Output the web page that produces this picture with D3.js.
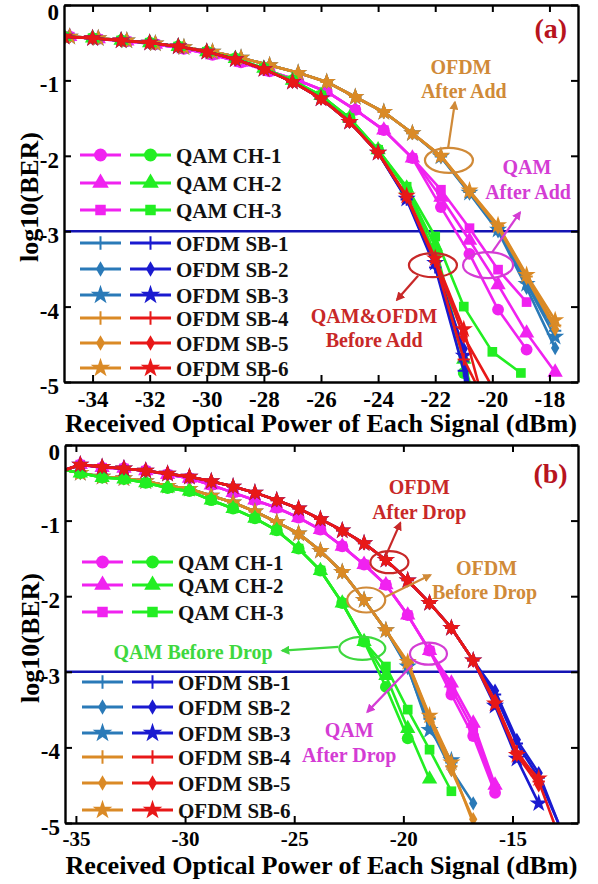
<!DOCTYPE html>
<html>
<head>
<meta charset="utf-8">
<script src="https://cdn.jsdelivr.net/npm/d3@7"></script>
<style>
  body { margin: 0; background: #fff; }
  text { font-family: "Liberation Serif", "Times New Roman", serif; font-weight: bold; }
</style>
</head>
<body>
<svg id="chart" width="598" height="884"></svg>
<script>
// ---- shared ----
const legendLabels = ["QAM CH-1", "QAM CH-2", "QAM CH-3", "OFDM SB-1", "OFDM SB-2", "OFDM SB-3", "OFDM SB-4", "OFDM SB-5", "OFDM SB-6"];
const symbolNames = ["circle", "triangle", "square", "plus", "diamond", "star", "plus", "diamond", "star"];
const yTicks = [0, -1, -2, -3, -4, -5];
const threshold = -3;

// ---- panel (a) ----
const xTicksA = [-34, -32, -30, -28, -26, -24, -22, -20, -18];
// before add, integer powers
const xA1 = [-35, -34, -33, -32, -31, -30, -29, -28, -27, -26, -25, -24, -23, -22, -21, -20, -19];
// after add, markers slightly right
const xA2 = [-34.8, -33.8, -32.8, -31.8, -30.8, -29.8, -28.8, -27.8, -26.8, -25.8, -24.8, -23.8, -22.8, -21.8, -20.8, -19.8, -18.8, -17.8];

const magHeadA = [-0.42, -0.45, -0.48, -0.52, -0.58, -0.66, -0.76, -0.88, -1.00, -1.15, -1.39, -1.66, -2.03];
const ofdmAftHeadA = [-0.42, -0.44, -0.47, -0.51, -0.56, -0.62, -0.70, -0.80, -0.90, -1.02, -1.22, -1.42, -1.70];
const greenHeadA = [-0.42, -0.44, -0.47, -0.50, -0.55, -0.62, -0.71, -0.84, -1.00, -1.20, -1.50, -1.92];
const ofdmBefHeadA = [-0.42, -0.44, -0.47, -0.50, -0.55, -0.62, -0.72, -0.85, -1.02, -1.24, -1.55, -1.96];

const qamAfterAdd1 = magHeadA.concat([-2.68, -3.30, -4.04, -4.57]);
const qamAfterAdd2 = magHeadA.concat([-2.55, -3.12, -3.71, -4.35, -4.87]);
const qamAfterAdd3 = magHeadA.concat([-2.45, -2.96, -3.51, -3.94]);
const ofdmAfterAdd1 = ofdmAftHeadA.concat([-2.01, -2.48, -2.97, -3.68, -4.32]);
const ofdmAfterAdd2 = ofdmAftHeadA.concat([-2.02, -2.50, -3.00, -3.75, -4.55]);
const ofdmAfterAdd3 = ofdmAftHeadA.concat([-2.01, -2.49, -2.98, -3.70, -4.40]);
const ofdmAfterAdd4 = ofdmAftHeadA.concat([-2.00, -2.47, -2.93, -3.60, -4.25]);
const ofdmAfterAdd5 = ofdmAftHeadA.concat([-2.01, -2.48, -2.95, -3.62, -4.30]);
const ofdmAfterAdd6 = ofdmAftHeadA.concat([-2.00, -2.46, -2.92, -3.58, -4.18]);

const qamBeforeAdd1 = greenHeadA.concat([-2.45, -3.30, -4.88]);
const qamBeforeAdd2 = greenHeadA.concat([-2.43, -3.20, -4.70]);
const qamBeforeAdd3 = greenHeadA.concat([-2.41, -3.07, -4.00, -4.60, -4.88]);
const ofdmBeforeAdd1 = ofdmBefHeadA.concat([-2.58, -3.48, -4.85]);
const ofdmBeforeAdd2 = ofdmBefHeadA.concat([-2.56, -3.45, -4.56]);
const ofdmBeforeAdd3 = ofdmBefHeadA.concat([-2.57, -3.42, -4.65]);
const ofdmBeforeAdd4 = ofdmBefHeadA.concat([-2.55, -3.40, -4.70]);
const ofdmBeforeAdd5 = ofdmBefHeadA.concat([-2.54, -3.38, -4.40]);
const ofdmBeforeAdd6 = ofdmBefHeadA.concat([-2.53, -3.36, -4.30]);
// where a curve runs on to the bottom edge (log10 BER = -5)
const endBeforeAdd = [null, -20.8, null, -20.95, -20.85, -20.9, -20.6, -20.1, -20.5];

// ---- panel (b) ----
const xTicksB = [-35, -30, -25, -20, -15];
const xB = [-35.5, -34.8, -33.8, -32.8, -31.8, -30.8, -29.8, -28.8, -27.8, -26.8, -25.8, -24.8, -23.8, -22.8, -21.8, -20.8, -19.8, -18.8, -17.8, -16.8, -15.8, -14.8, -13.8];

const magHeadB = [-0.33, -0.26, -0.30, -0.31, -0.34, -0.39, -0.44, -0.53, -0.63, -0.73, -0.83, -0.96, -1.12, -1.34, -1.58, -1.85, -2.25, -2.72];
const greenHeadB = [-0.33, -0.37, -0.43, -0.45, -0.50, -0.57, -0.61, -0.73, -0.84, -0.97, -1.13, -1.37, -1.66, -2.09, -2.60];
const ofdmBefHeadB = [-0.33, -0.37, -0.42, -0.44, -0.48, -0.54, -0.58, -0.67, -0.76, -0.88, -1.02, -1.17, -1.40, -1.68, -2.05, -2.45];
const ofdmAftHeadB = [-0.33, -0.26, -0.29, -0.31, -0.34, -0.38, -0.42, -0.48, -0.55, -0.63, -0.73, -0.84, -0.98, -1.13, -1.30, -1.52, -1.79, -2.09, -2.42, -2.85];

const qamAfterDrop1 = magHeadB.concat([-3.30, -3.85, -4.60]);
const qamAfterDrop2 = magHeadB.concat([-3.15, -3.68, -4.50]);
const qamAfterDrop3 = magHeadB.concat([-3.22, -3.76, -4.55]);
const ofdmBeforeDrop1 = ofdmBefHeadB.concat([-2.90, -3.62, -4.20]);
const ofdmBeforeDrop2 = ofdmBefHeadB.concat([-2.95, -3.72, -4.30, -4.74]);
const ofdmBeforeDrop3 = ofdmBefHeadB.concat([-2.93, -3.77, -4.17]);
const ofdmBeforeDrop4 = ofdmBefHeadB.concat([-2.88, -3.60, -4.25]);
const ofdmBeforeDrop5 = ofdmBefHeadB.concat([-2.90, -3.63, -4.30, -4.95]);
const ofdmBeforeDrop6 = ofdmBefHeadB.concat([-2.87, -3.58, -4.20]);
const endLeftB = [null, null, null, null, null, null, -16.8, null, null];

const qamBeforeDrop1 = greenHeadB.concat([-3.20, -3.88]);
const qamBeforeDrop2 = greenHeadB.concat([-3.05, -3.75, -4.42]);
const qamBeforeDrop3 = greenHeadB.concat([-2.93, -3.50, -4.03, -4.58]);
const ofdmAfterDrop1 = ofdmAftHeadB.concat([-3.30, -3.95, -4.40]);
const ofdmAfterDrop2 = ofdmAftHeadB.concat([-3.25, -3.90, -4.34]);
const ofdmAfterDrop3 = ofdmAftHeadB.concat([-3.45, -4.15, -4.74]);
const ofdmAfterDrop4 = ofdmAftHeadB.concat([-3.40, -4.05, -4.45]);
const ofdmAfterDrop5 = ofdmAftHeadB.concat([-3.38, -4.10, -4.50]);
const ofdmAfterDrop6 = ofdmAftHeadB.concat([-3.42, -4.10, -4.41]);
const endRightB = [null, null, null, -12.9, -12.9, null, -13.1, null, null];

// ---- styles ----
const leftColors = ["#f022f0", "#f022f0", "#f022f0", "#2a7ab8", "#2a7ab8", "#2a7ab8", "#da8a26", "#da8a26", "#da8a26"];
const rightColors = ["#22ee22", "#22ee22", "#22ee22", "#1a1ad0", "#1a1ad0", "#1a1ad0", "#e81818", "#e81818", "#e81818"];
const symbolSize = { circle: 130, triangle: 120, square: 110, diamond: 70, star: 120, plus: 100 };

const symbolPlus = {
  draw (ctx, size) {
    const r = Math.sqrt(size) / 1.5;
    ctx.moveTo(-r, 0); ctx.lineTo(r, 0);
    ctx.moveTo(0, -r); ctx.lineTo(0, r);
  }
};
const symbolTypes = {
  circle: d3.symbolCircle, triangle: d3.symbolTriangle, square: d3.symbolSquare,
  diamond: d3.symbolDiamond, star: d3.symbolStar, plus: symbolPlus
};

function mk (xs, ys, endX) {
  const pts = ys.map((v, i) => ({ x: xs[i], y: v }));
  if (endX != null) pts.push({ x: endX, y: -5, end: true });
  return pts;
}

const svg = d3.select("#chart");
svg.append("rect").attr("width", 598).attr("height", 884).attr("fill", "#fff");

const defs = svg.append("defs");
function arrowId (color) {
  const id = "arr" + color.replace("#", "");
  if (defs.select("#" + id).empty()) {
    defs.append("marker")
      .attr("id", id)
      .attr("viewBox", "0 0 10 10")
      .attr("refX", 8).attr("refY", 5)
      .attr("markerWidth", 9).attr("markerHeight", 9)
      .attr("markerUnits", "userSpaceOnUse")
      .attr("orient", "auto")
      .append("path").attr("d", "M0,0 L10,5 L0,10 z").attr("fill", color);
  }
  return "url(#" + id + ")";
}

function drawSymbol (g, name, color, x, y, scale) {
  const path = d3.symbol().type(symbolTypes[name]).size(symbolSize[name] * scale)();
  const s = g.append("path").attr("d", path).attr("transform", `translate(${x},${y})`);
  if (name === "plus") {
    s.attr("fill", "none").attr("stroke", color).attr("stroke-width", 2);
  } else {
    s.attr("fill", color);
  }
}

function drawPanel (cfg) {
  const x = d3.scaleLinear().domain(cfg.xDomain).range([cfg.left, cfg.right]);
  const y = d3.scaleLinear().domain([-5, 0]).range([cfg.bottom, cfg.top]);
  const g = svg.append("g");

  const clipId = "clip" + cfg.id;
  defs.append("clipPath").attr("id", clipId)
    .append("rect").attr("x", cfg.left).attr("y", cfg.top)
    .attr("width", cfg.right - cfg.left).attr("height", cfg.bottom - cfg.top);

  // threshold line
  g.append("line")
    .attr("x1", cfg.left).attr("x2", cfg.right)
    .attr("y1", y(threshold)).attr("y2", y(threshold))
    .attr("stroke", "#1414b4").attr("stroke-width", 2.4);

  const line = d3.line().x(d => x(d.x)).y(d => y(d.y));
  const plot = g.append("g").attr("clip-path", `url(#${clipId})`);
  const all = [];
  cfg.leftSeries.forEach((s, i) => all.push({ pts: s, color: leftColors[i], sym: symbolNames[i] }));
  cfg.rightSeries.forEach((s, i) => all.push({ pts: s, color: rightColors[i], sym: symbolNames[i] }));

  all.forEach(s => {
    plot.append("path")
      .attr("d", line(s.pts))
      .attr("fill", "none")
      .attr("stroke", s.color)
      .attr("stroke-width", 2.6)
      .attr("stroke-linejoin", "round");
    s.pts.forEach(p => {
      if (p.end || p.x < cfg.markFrom) return;
      drawSymbol(plot, s.sym, s.color, x(p.x), y(p.y), 0.85);
    });
  });

  // axes
  const fmt = d => String(d);
  const bottom = g.append("g").attr("transform", `translate(0,${cfg.bottom})`)
    .call(d3.axisBottom(x).tickValues(cfg.xTicks).tickFormat(fmt).tickSizeInner(-7).tickSizeOuter(0).tickPadding(cfg.xPad));
  const top = g.append("g").attr("transform", `translate(0,${cfg.top})`)
    .call(d3.axisTop(x).tickValues(cfg.xTicks).tickFormat("").tickSizeInner(-7).tickSizeOuter(0));
  const left = g.append("g").attr("transform", `translate(${cfg.left},0)`)
    .call(d3.axisLeft(y).tickValues(yTicks).tickFormat(fmt).tickSizeInner(-7).tickSizeOuter(0).tickPadding(5));
  const right = g.append("g").attr("transform", `translate(${cfg.right},0)`)
    .call(d3.axisRight(y).tickValues(yTicks).tickFormat("").tickSizeInner(-7).tickSizeOuter(0));
  [bottom, top, left, right].forEach(a => {
    a.select(".domain").attr("stroke", "#000").attr("stroke-width", 2.4);
    a.selectAll(".tick line").attr("stroke", "#000").attr("stroke-width", 2);
  });
  bottom.selectAll("text").attr("font-size", cfg.xFont).attr("fill", "#000")
    .style("font-family", "'Liberation Serif', serif").style("font-weight", "bold");
  left.selectAll("text").attr("font-size", 23).attr("fill", "#000")
    .attr("dy", d => d === 0 ? "0.65em" : "0.5em")
    .style("font-family", "'Liberation Serif', serif").style("font-weight", "bold");

  g.append("text")
    .attr("x", (cfg.left + cfg.right) / 2).attr("y", cfg.titleY)
    .attr("text-anchor", "middle").attr("font-size", 25)
    .attr("textLength", 512).attr("lengthAdjust", "spacingAndGlyphs")
    .text("Received Optical Power of Each Signal (dBm)");
  g.append("text")
    .attr("transform", `translate(${cfg.yLabelX},${cfg.yLabelY}) rotate(-90)`)
    .attr("text-anchor", "middle").attr("dy", "0.35em").attr("font-size", 25)
    .attr("textLength", 130).attr("lengthAdjust", "spacingAndGlyphs")
    .text("log10(BER)");

  // legend
  cfg.legendRows.forEach((ry, i) => {
    const lg = g.append("g");
    [[leftColors[i], cfg.legX[0]], [rightColors[i], cfg.legX[1]]].forEach(([c, lx]) => {
      lg.append("line").attr("x1", lx).attr("x2", lx + 41).attr("y1", ry).attr("y2", ry)
        .attr("stroke", c).attr("stroke-width", 3);
      drawSymbol(lg, symbolNames[i], c, lx + 20.5, ry, 1);
    });
    lg.append("text").attr("x", cfg.legX[1] + 46).attr("y", ry).attr("dy", "0.36em")
      .attr("font-size", 21).attr("fill", "#111").text(legendLabels[i]);
  });

  // annotations
  cfg.ellipses.forEach(e => {
    g.append("ellipse").attr("cx", x(e.x)).attr("cy", y(e.y)).attr("rx", e.rx).attr("ry", e.ry)
      .attr("fill", "none").attr("stroke", e.color).attr("stroke-width", 2.2);
  });
  cfg.arrows.forEach(a => {
    g.append("line").attr("x1", x(a.x1)).attr("y1", y(a.y1)).attr("x2", x(a.x2)).attr("y2", y(a.y2))
      .attr("stroke", a.color).attr("stroke-width", 2.2).attr("marker-end", arrowId(a.color));
  });
  cfg.notes.forEach(n => {
    g.append("text").attr("x", x(n.x)).attr("y", y(n.y)).attr("dy", "0.35em")
      .attr("text-anchor", "middle").attr("font-size", n.size || 20).attr("fill", n.color).text(n.text);
  });
}

const orangeNote = "#d08a38", magentaNote = "#d43cd4", redNote = "#c82828", greenNote = "#3ed83e";

drawPanel({
  id: "a", xDomain: [-35, -17], xTicks: xTicksA, xFont: 23,
  left: 64, right: 578, top: 5, bottom: 382, xPad: 9, markFrom: -35,
  titleY: 432, yLabelX: 29, yLabelY: 197,
  leftSeries: [
    mk(xA2, qamAfterAdd1), mk(xA2, qamAfterAdd2), mk(xA2, qamAfterAdd3),
    mk(xA2, ofdmAfterAdd1), mk(xA2, ofdmAfterAdd2), mk(xA2, ofdmAfterAdd3),
    mk(xA2, ofdmAfterAdd4), mk(xA2, ofdmAfterAdd5), mk(xA2, ofdmAfterAdd6)
  ],
  rightSeries: [
    mk(xA1, qamBeforeAdd1, endBeforeAdd[0]), mk(xA1, qamBeforeAdd2, endBeforeAdd[1]), mk(xA1, qamBeforeAdd3, endBeforeAdd[2]),
    mk(xA1, ofdmBeforeAdd1, endBeforeAdd[3]), mk(xA1, ofdmBeforeAdd2, endBeforeAdd[4]), mk(xA1, ofdmBeforeAdd3, endBeforeAdd[5]),
    mk(xA1, ofdmBeforeAdd4, endBeforeAdd[6]), mk(xA1, ofdmBeforeAdd5, endBeforeAdd[7]), mk(xA1, ofdmBeforeAdd6, endBeforeAdd[8])
  ],
  legendRows: [155, 183, 210, 243, 269, 295, 318, 343, 368],
  legX: [80, 130],
  ellipses: [
    { x: -21.52, y: -2.06, rx: 24, ry: 12.5, color: orangeNote },
    { x: -20.15, y: -3.45, rx: 25, ry: 13, color: magentaNote },
    { x: -22.08, y: -3.45, rx: 24, ry: 12, color: redNote }
  ],
  arrows: [
    { x1: -21.55, y1: -1.90, x2: -21.31, y2: -1.29, color: orangeNote },
    { x1: -20.01, y1: -3.28, x2: -19.03, y2: -2.75, color: magentaNote },
    { x1: -22.60, y1: -3.59, x2: -23.34, y2: -3.91, color: redNote }
  ],
  notes: [
    { x: -21.1, y: -0.82, text: "OFDM", color: orangeNote },
    { x: -21.0, y: -1.14, text: "After Add", color: orangeNote },
    { x: -18.79, y: -2.15, text: "QAM", color: magentaNote },
    { x: -18.75, y: -2.48, text: "After Add", color: magentaNote },
    { x: -24.14, y: -4.12, text: "QAM&OFDM", color: redNote },
    { x: -24.14, y: -4.44, text: "Before Add", color: redNote },
    { x: -17.95, y: -0.31, text: "(a)", color: "#b8141e", size: 28 }
  ]
});

drawPanel({
  id: "b", xDomain: [-35.5, -12], xTicks: xTicksB, xFont: 21,
  left: 65, right: 578, top: 445, bottom: 823, xPad: 8, markFrom: -35,
  titleY: 874, yLabelX: 30, yLabelY: 638,
  leftSeries: [
    mk(xB, qamAfterDrop1), mk(xB, qamAfterDrop2), mk(xB, qamAfterDrop3),
    mk(xB, ofdmBeforeDrop1, endLeftB[3]), mk(xB, ofdmBeforeDrop2, endLeftB[4]), mk(xB, ofdmBeforeDrop3, endLeftB[5]),
    mk(xB, ofdmBeforeDrop4, endLeftB[6]), mk(xB, ofdmBeforeDrop5, endLeftB[7]), mk(xB, ofdmBeforeDrop6, endLeftB[8])
  ],
  rightSeries: [
    mk(xB, qamBeforeDrop1), mk(xB, qamBeforeDrop2), mk(xB, qamBeforeDrop3),
    mk(xB, ofdmAfterDrop1, endRightB[3]), mk(xB, ofdmAfterDrop2, endRightB[4]), mk(xB, ofdmAfterDrop3, endRightB[5]),
    mk(xB, ofdmAfterDrop4, endRightB[6]), mk(xB, ofdmAfterDrop5, endRightB[7]), mk(xB, ofdmAfterDrop6, endRightB[8])
  ],
  legendRows: [562, 585, 612, 682, 707, 733, 757, 783, 810],
  legX: [82, 132],
  ellipses: [
    { x: -20.64, y: -1.55, rx: 19, ry: 11, color: redNote },
    { x: -21.70, y: -2.05, rx: 19, ry: 12.5, color: orangeNote },
    { x: -21.88, y: -2.69, rx: 23, ry: 11.5, color: greenNote },
    { x: -18.85, y: -2.76, rx: 18.5, ry: 11, color: magentaNote }
  ],
  arrows: [
    { x1: -20.83, y1: -1.48, x2: -20.14, y2: -1.03, color: redNote },
    { x1: -20.83, y1: -2.01, x2: -18.76, y2: -1.72, color: orangeNote },
    { x1: -22.98, y1: -2.67, x2: -25.55, y2: -2.72, color: greenNote },
    { x1: -19.59, y1: -2.91, x2: -21.65, y2: -3.53, color: magentaNote }
  ],
  notes: [
    { x: -13.26, y: -0.37, text: "(b)", color: "#b8141e", size: 28 },
    { x: -19.27, y: -0.56, text: "OFDM", color: redNote },
    { x: -19.27, y: -0.89, text: "After Drop", color: redNote },
    { x: -16.19, y: -1.63, text: "OFDM", color: orangeNote },
    { x: -16.28, y: -1.94, text: "Before Drop", color: orangeNote },
    { x: -29.63, y: -2.74, text: "QAM Before Drop", color: greenNote },
    { x: -22.48, y: -3.77, text: "QAM", color: magentaNote },
    { x: -22.48, y: -4.10, text: "After Drop", color: magentaNote }
  ]
});
</script>
</body>
</html>
